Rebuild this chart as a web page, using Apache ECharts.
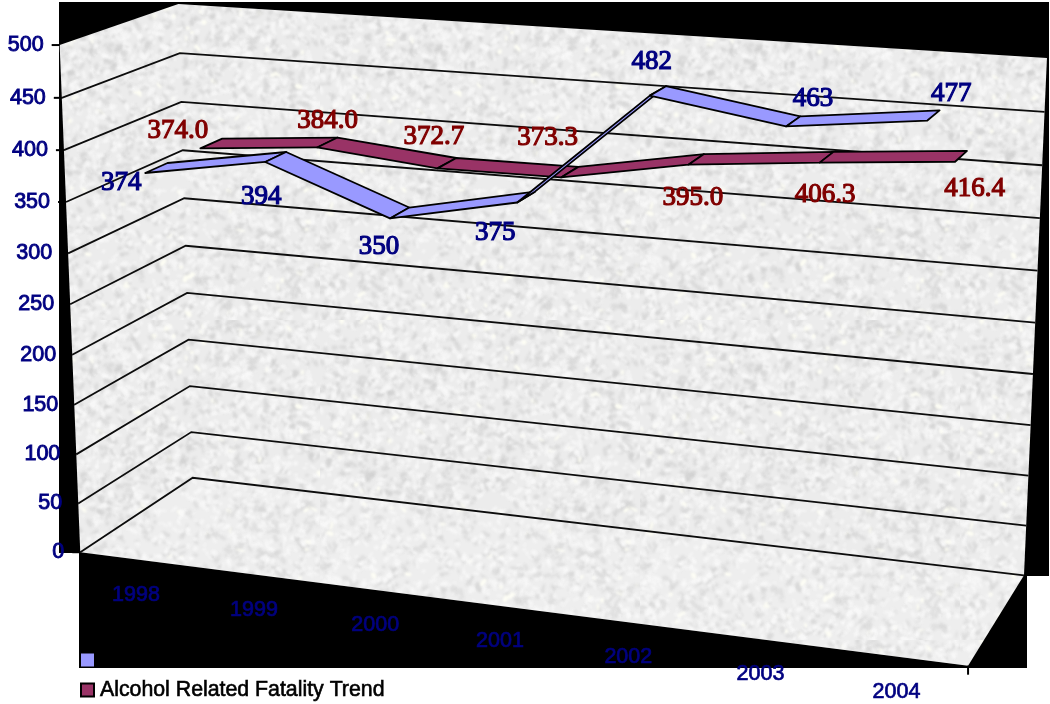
<!DOCTYPE html>
<html>
<head>
<meta charset="utf-8">
<style>html,body{margin:0;padding:0;background:#fff}#chart{width:1050px;height:704px}</style>
<script src="https://cdn.jsdelivr.net/npm/echarts@6/dist/echarts.min.js"></script>
</head>
<body>
<div id="chart"></div>
<script>
// Chart values
const categories = ['1998', '1999', '2000', '2001', '2002', '2003', '2004'];
const fatalities = [374, 394, 350, 375, 482, 463, 477];
const fatalityTrend = [374.0, 384.0, 372.7, 373.3, 395.0, 406.3, 416.4];
const valueTicks = [0, 50, 100, 150, 200, 250, 300, 350, 400, 450, 500];
const fatalitiesName = 'Alcohol Related Fatalities';
const trendName = 'Alcohol Related Fatality Trend';

// Box corners on screen, keyed by [across, up, depth], used to fit the camera
const boxCorners = [
  [[0, 0, 0], [80, 552]], [[0, 1, 0], [60, 45]],
  [[0, 0, 1], [193, 478]], [[0, 1, 1], [178, 4]],
  [[1, 0, 1], [1024, 575]], [[1, 1, 1], [1047, 58]],
  [[1, 0, 0], [968, 666]]
];

// Least-squares fit of the 3x4 projective camera
function fitCamera(pairs) {
  const rows = [], rhs = [];
  pairs.forEach(([[u, v, w], [x, y]]) => {
    rows.push([u, v, w, 1, 0, 0, 0, 0, -x * u, -x * v, -x * w]); rhs.push(x);
    rows.push([0, 0, 0, 0, u, v, w, 1, -y * u, -y * v, -y * w]); rhs.push(y);
  });
  const n = 11, M = [];
  for (let i = 0; i < n; i++) {
    M.push(new Array(n + 1).fill(0));
    for (let j = 0; j < n; j++) rows.forEach(r => { M[i][j] += r[i] * r[j]; });
    rows.forEach((r, k) => { M[i][n] += r[i] * rhs[k]; });
  }
  for (let c = 0; c < n; c++) {
    let p = c;
    for (let r = c + 1; r < n; r++) if (Math.abs(M[r][c]) > Math.abs(M[p][c])) p = r;
    [M[c], M[p]] = [M[p], M[c]];
    for (let r = 0; r < n; r++) {
      if (r === c) continue;
      const f = M[r][c] / M[c][c];
      for (let k = c; k <= n; k++) M[r][k] -= f * M[c][k];
    }
  }
  return M.map((r, i) => r[n] / r[i]);
}
const cam = fitCamera(boxCorners);
function project(u, v, w) {
  const d = cam[8] * u + cam[9] * v + cam[10] * w + 1;
  return [(cam[0] * u + cam[1] * v + cam[2] * w + cam[3]) / d,
          (cam[4] * u + cam[5] * v + cam[6] * w + cam[7]) / d];
}

// Hidden cartesian axes fill the page, so a scale position becomes a box fraction
function place(api, cat, val, w) {
  const p = api.coord([cat, val]);
  return project(p[0] / api.getWidth(), 1 - p[1] / api.getHeight(), w);
}

// Marble surface
function marble() {
  const c = document.createElement('canvas');
  c.width = c.height = 320;
  const g = c.getContext('2d');
  g.fillStyle = '#ececec';
  g.fillRect(0, 0, 320, 320);
  let s = 12345;
  const rnd = () => (s = (s * 1103515245 + 12345) & 0x7fffffff) / 0x7fffffff;
  g.filter = 'blur(1px)';
  for (let i = 0; i < 3800; i++) {
    const t = rnd();
    g.fillStyle = t < 0.4 ? 'rgba(208,208,208,0.55)' : t < 0.97 ? 'rgba(250,250,250,0.7)' : 'rgba(255,255,245,0.9)';
    g.beginPath();
    g.ellipse(rnd() * 320, rnd() * 320, 1.5 + rnd() * 3.5, 1 + rnd() * 1.6, rnd() * 3.14, 0, 6.3);
    g.fill();
  }
  return c;
}
const surface = { image: marble(), repeat: 'repeat' };

const SANS = '"Liberation Sans", Arial, sans-serif';
const SERIF = '"Liberation Serif", "Times New Roman", serif';
const NAVY = '#000080';
const MAROON = '#800000';

// Walls and floor as one outline, gridlines, ticks and axis labels
function renderFrame(params, api) {
  const P = project, kids = [];
  kids.push({ type: 'polygon', shape: { points: [P(0,0,0), P(0,1,0), P(0,1,1), P(1,1,1), P(1,0,1), P(1,0,0)] },
    style: { fill: surface } });
  kids.push({ type: 'polygon', shape: { points: [P(0,0,0), P(0,0,1), P(1,0,1), P(1,0,0)] },
    style: { fill: 'rgba(255,255,255,0.12)' } });
  valueTicks.forEach(t => {
    const v = 1 - api.coord([categories[0], t])[1] / api.getHeight();
    const f = P(0, v, 0);
    if (t < 500) {
      kids.push({ type: 'polyline', shape: { points: [f, P(0, v, 1), P(1, v, 1)] },
        style: { fill: null, stroke: '#0c0c0c', lineWidth: 1.8 } });
    }
    kids.push({ type: 'line', shape: { x1: f[0] - 8, y1: f[1], x2: f[0], y2: f[1] },
      style: { stroke: '#000', lineWidth: 2 } });
    kids.push({ type: 'text', x: f[0] - 16, y: f[1], style: {
      text: String(t), font: '21.5px ' + SANS, fill: NAVY, stroke: NAVY, lineWidth: 0.9,
      align: 'right', verticalAlign: 'middle' } });
  });
  categories.forEach(cat => {
    const px = api.coord([cat, 0]);
    const f = P(px[0] / api.getWidth(), 0, 0);
    kids.push({ type: 'text', x: f[0] - 2, y: f[1] + 35, style: {
      text: cat, font: '21.5px ' + SANS, fill: NAVY, stroke: NAVY, lineWidth: 0.7,
      align: 'center', verticalAlign: 'middle' } });
  });
  const end = P(1, 0, 0);
  kids.push({ type: 'line', shape: { x1: end[0], y1: end[1], x2: end[0], y2: end[1] + 9 },
    style: { stroke: '#000', lineWidth: 2 } });
  return { type: 'group', children: kids };
}

// One ribbon segment per category pair, outlined in black
function ribbon(values, front, back, fill) {
  return function (params, api) {
    const i = params.dataIndex;
    if (i >= values.length - 1) return { type: 'group', children: [] };
    const pts = [
      place(api, categories[i], values[i], front),
      place(api, categories[i], values[i], back),
      place(api, categories[i + 1], values[i + 1], back),
      place(api, categories[i + 1], values[i + 1], front)
    ];
    return { type: 'polygon', shape: { points: pts },
      style: { fill, stroke: '#000', lineWidth: 1.8, lineJoin: 'round' } };
  };
}

// Value labels sit a fixed distance from the ribbon's front edge
const blueLabelShift = [[-24, 10], [-4, 35], [-11, 28], [-22, 30], [2, -34], [27, -28], [24, -27]];
const redLabelShift = [[-22.5, -17.3], [10.5, -26.3], [-3.5, -31.3], [-13.5, -39.3], [4.5, 33.7], [5.5, 32.7], [19.5, 26.7]];
function labels(values, depth, shifts, color, digits) {
  return function (params, api) {
    const i = params.dataIndex;
    const p = place(api, categories[i], values[i], depth);
    return { type: 'text', x: p[0] + shifts[i][0], y: p[1] + shifts[i][1], style: {
      text: values[i].toFixed(digits), font: '27px ' + SERIF, fill: color,
      stroke: color, lineWidth: 1.2, align: 'center', verticalAlign: 'middle' } };
  };
}

const BLUE_FRONT = 0.17, BLUE_BACK = 0.36, RED_FRONT = 0.65, RED_BACK = 0.85;
const pairs = values => values.map((v, i) => [categories[i], v]);

const chart = echarts.init(document.getElementById('chart'), null, { renderer: 'canvas' });
chart.setOption({
  animation: false,
  backgroundColor: '#ffffff',
  grid: { left: 0, right: 0, top: 0, bottom: 0 },
  xAxis: { type: 'category', data: categories, show: false },
  yAxis: { type: 'value', min: 0, max: 500, interval: 50, show: false },
  legend: {
    orient: 'vertical', left: 80, top: 649, width: 400, height: 90, padding: 0,
    itemWidth: 13, itemHeight: 13, itemGap: 8,
    icon: 'rect', selectedMode: false,
    data: [fatalitiesName, trendName],
    textStyle: { color: '#000', fontFamily: SANS, fontSize: 21.3, lineHeight: 22,
      textBorderColor: '#000', textBorderWidth: 0.6, padding: [0, 0, 0, 1] }
  },
  graphic: [
    { type: 'rect', z: -10, shape: { x: 79, y: 2, width: 970, height: 574 }, style: { fill: '#000' }, silent: true },
    { type: 'rect', z: -10, shape: { x: 59, y: 2, width: 20, height: 551 }, style: { fill: '#000' }, silent: true },
    { type: 'rect', z: -10, shape: { x: 79, y: 553, width: 948, height: 115 }, style: { fill: '#000' }, silent: true }
  ],
  series: [
    { type: 'custom', name: 'frame', z: 1, clip: false, silent: true, data: [[categories[0], 0]],
      renderItem: renderFrame, encode: { x: 0, y: 1 } },
    { type: 'custom', name: trendName, z: 2, clip: false, silent: true, itemStyle: { color: '#993366', borderColor: '#000', borderWidth: 2 },
      data: pairs(fatalityTrend), renderItem: ribbon(fatalityTrend, RED_FRONT, RED_BACK, '#993366'), encode: { x: 0, y: 1 } },
    { type: 'custom', name: fatalitiesName, z: 3, clip: false, silent: true, itemStyle: { color: '#9999ff' },
      data: pairs(fatalities), renderItem: ribbon(fatalities, BLUE_FRONT, BLUE_BACK, '#9999ff'), encode: { x: 0, y: 1 } },
    { type: 'custom', name: 'trend labels', z: 4, clip: false, silent: true, data: pairs(fatalityTrend),
      renderItem: labels(fatalityTrend, RED_FRONT, redLabelShift, MAROON, 1), encode: { x: 0, y: 1 } },
    { type: 'custom', name: 'fatality labels', z: 4, clip: false, silent: true, data: pairs(fatalities),
      renderItem: labels(fatalities, BLUE_FRONT, blueLabelShift, NAVY, 0), encode: { x: 0, y: 1 } }
  ]
});
</script>
</body>
</html>
